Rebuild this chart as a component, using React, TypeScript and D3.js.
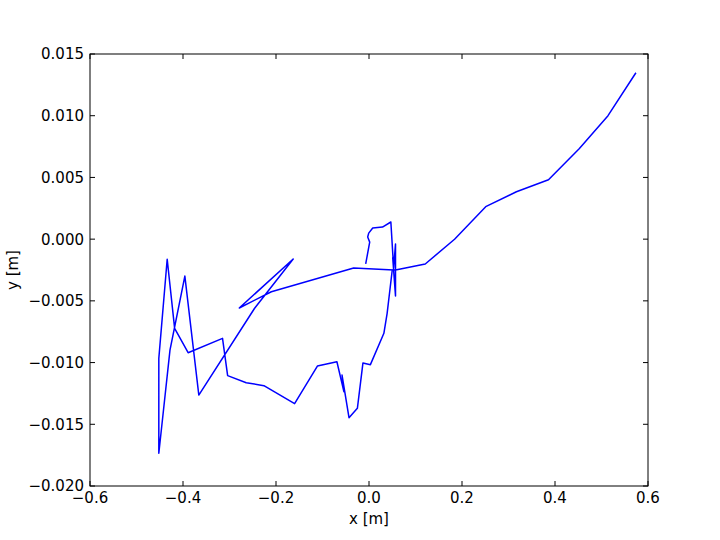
import React from "react";
import * as d3 from "d3";

const xs: number[] = [
  -0.0071, 0.0015, -0.0028, -0.0006, 0.008, 0.029, 0.047, 0.053, 0.057, 0.057, 0.051, 0.053,
  -0.033, -0.21, -0.279, -0.163, -0.246, -0.366, -0.396, -0.428, -0.452, -0.452, -0.434, -0.418,
  -0.389, -0.315, -0.304, -0.264, -0.226, -0.16, -0.111, -0.069, -0.054, -0.058, -0.043, -0.025,
  -0.013, 0.003, 0.032, 0.039, 0.05, 0.057, 0.121, 0.184, 0.251, 0.317, 0.386, 0.452, 0.514, 0.574,
];
const ys: number[] = [
  -0.00201, -0.00024, 0.00017, 0.00049, 0.0009, 0.00098, 0.00139, -0.00234, -0.0004, -0.0046, -0.0015, -0.0025,
  -0.00234, -0.00426, -0.00558, -0.00161, -0.0056, -0.01263, -0.00299, -0.00899, -0.01735, -0.00966, -0.00163, -0.00723,
  -0.0092, -0.00804, -0.01106, -0.01163, -0.01187, -0.01333, -0.01028, -0.00993, -0.01236, -0.01101, -0.01447, -0.01371,
  -0.01003, -0.01017, -0.00763, -0.00601, -0.0025, -0.0025, -0.00201, -0.00001, 0.00263, 0.00384, 0.00481, 0.00733, 0.01, 0.01348,
];
const xTicks: number[] = [-0.6, -0.4, -0.2, 0.0, 0.2, 0.4, 0.6];
const yTicks: number[] = [-0.02, -0.015, -0.01, -0.005, 0.0, 0.005, 0.01, 0.015];
const xLabel = "x [m]";
const yLabel = "y [m]";

const W = 720, H = 540;
const L = 90, R = 648, T = 54, B = 486;
const FONT = "'DejaVu Sans', sans-serif";

function fmt(v: number, d: number): string {
  const s = Math.abs(v) < 1e-12 ? (0).toFixed(d) : v.toFixed(d);
  return s.replace("-", "\u2212");
}

export default function App() {
  const x = d3.scaleLinear().domain([-0.6, 0.6]).range([L, R]);
  const y = d3.scaleLinear().domain([-0.02, 0.015]).range([B, T]);
  const pts: [number, number][] = xs.map((v, i) => [v, ys[i]]);
  const line = d3.line<[number, number]>().x((d) => x(d[0])).y((d) => y(d[1]));
  const tl = 5;
  return (
    <svg width={W} height={H} style={{ position: "absolute", left: 0, top: 0, background: "#fff" }}>
      <rect x={0} y={0} width={W} height={H} fill="#fff" />
      <defs>
        <clipPath id="clip">
          <rect x={L} y={T} width={R - L} height={B - T} />
        </clipPath>
      </defs>
      <path d={line(pts) || ""} fill="none" stroke="#0000ff" strokeWidth={1.5} strokeLinejoin="round" clipPath="url(#clip)" />
      {xTicks.map((t) => (
        <g key={"x" + t}>
          <line x1={x(t)} x2={x(t)} y1={B} y2={B - tl} stroke="#000" strokeWidth={1} />
          <line x1={x(t)} x2={x(t)} y1={T} y2={T + tl} stroke="#000" strokeWidth={1} />
          <text x={x(t)} y={503} textAnchor="middle" fontFamily={FONT} fontSize={15} fill="#000">
            {fmt(t, 1)}
          </text>
        </g>
      ))}
      {yTicks.map((t) => (
        <g key={"y" + t}>
          <line x1={L} x2={L + tl} y1={y(t)} y2={y(t)} stroke="#000" strokeWidth={1} />
          <line x1={R} x2={R - tl} y1={y(t)} y2={y(t)} stroke="#000" strokeWidth={1} />
          <text x={84} y={y(t)} dy="0.36em" textAnchor="end" fontFamily={FONT} fontSize={15} fill="#000">
            {fmt(t, 3)}
          </text>
        </g>
      ))}
      <rect x={L} y={T} width={R - L} height={B - T} fill="none" stroke="#000" strokeWidth={1} />
      <text x={(L + R) / 2} y={524} textAnchor="middle" fontFamily={FONT} fontSize={15} fill="#000">
        {xLabel}
      </text>
      <text transform={`translate(18, ${(T + B) / 2}) rotate(-90)`} textAnchor="middle" fontFamily={FONT} fontSize={15} fill="#000">
        {yLabel}
      </text>
    </svg>
  );
}
